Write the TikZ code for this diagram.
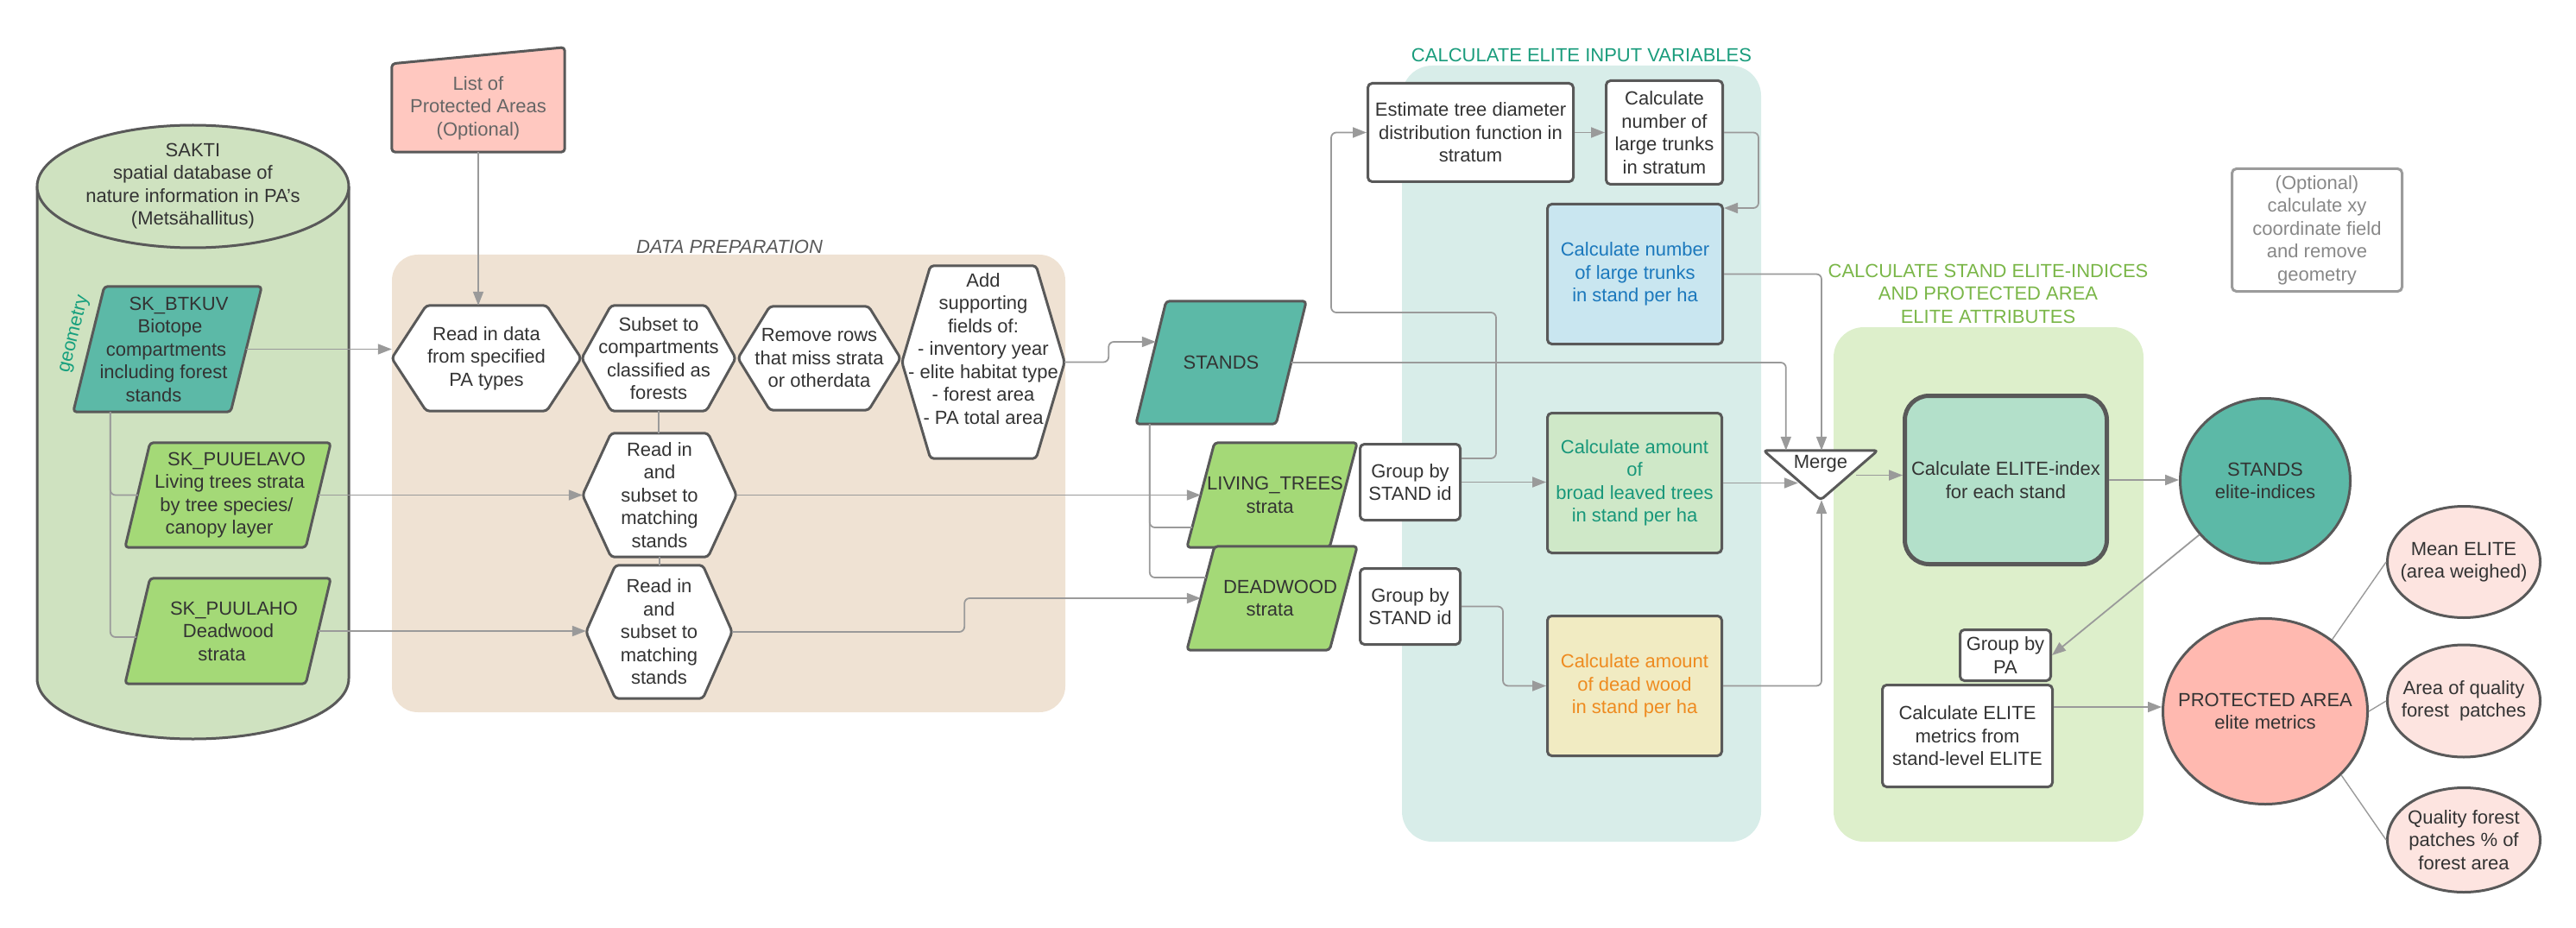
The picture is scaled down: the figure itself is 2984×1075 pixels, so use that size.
\documentclass[tikz,border=0pt]{standalone}
\usepackage{fontspec}
\setmainfont{Liberation Sans}
\usetikzlibrary{shapes.geometric,arrows.meta,calc}
\pgfdeclarelayer{groups}
\pgfdeclarelayer{shapes}
\pgfsetlayers{groups,shapes,main}
\definecolor{txtc}{HTML}{333333}
\definecolor{bord}{HTML}{595959}
\definecolor{conc}{HTML}{9A9A9A}
\definecolor{cylf}{HTML}{CFE2C0}
\definecolor{lpaf}{HTML}{FFC8C0}
\definecolor{lpat}{HTML}{666666}
\definecolor{tealf}{HTML}{5CB9A7}
\definecolor{limef}{HTML}{A4D977}
\definecolor{dpf}{HTML}{EFE2D3}
\definecolor{tealbg}{HTML}{D8EDE9}
\definecolor{greenbg}{HTML}{DDEFCB}
\definecolor{bluef}{HTML}{C9E6F0}
\definecolor{bluet}{HTML}{1B78BC}
\definecolor{greenf}{HTML}{CFE8C8}
\definecolor{greent}{HTML}{18977A}
\definecolor{yelf}{HTML}{F1EBC2}
\definecolor{yelt}{HTML}{EE8B20}
\definecolor{elitef}{HTML}{B3E0CA}
\definecolor{paf}{HTML}{FFB9B0}
\definecolor{smallf}{HTML}{FDE4E0}
\definecolor{optb}{HTML}{9B9B9B}
\definecolor{optt}{HTML}{888888}
\definecolor{geoc}{HTML}{17A07E}
\definecolor{dplab}{HTML}{595959}
\definecolor{inlab}{HTML}{1A9C7C}
\definecolor{stlab}{HTML}{7AB648}
\newcommand\fs{\fontsize{22}{26.5}\selectfont}
\newcommand\slnt[2]{\hspace*{#1pt}#2\hspace*{-#1pt}}
\newcommand\paraout[3]{\begin{pgfonlayer}{shapes}\draw[shp,fill=#3] ($(#1.north west)+(#2,0)$) -- (#1.north east) -- ($(#1.south east)+(-#2,0)$) -- (#1.south west) -- cycle;\end{pgfonlayer}}
\newcommand\hexout[2]{\begin{pgfonlayer}{shapes}\draw[shp,fill=white] (#1.west) -- ($(#1.north west)+(#2,0)$) -- ($(#1.north east)+(-#2,0)$) -- (#1.east) -- ($(#1.south east)+(-#2,0)$) -- ($(#1.south west)+(#2,0)$) -- cycle;\end{pgfonlayer}}
\tikzset{
  txt/.style={font=\fs, text=txtc, align=center, inner sep=0pt},
  box/.style={txt, draw=bord, line width=3pt, rounded corners=5pt, fill=white},
  shp/.style={draw=bord, line width=3pt, rounded corners=4pt, line join=round},
  ell/.style={ellipse, draw=bord, line width=3pt, inner sep=0pt},
  conn/.style={draw=conc, line width=1.8pt, rounded corners=6pt},
  arr/.style={conn, -{Triangle[length=16pt,width=12pt]}},
  link/.style={draw=conc, line width=1.4pt},
  ttl/.style={inner sep=0pt, align=center},
}
\begin{document}
\begin{tikzpicture}[x=1pt,y=-1pt]
\useasboundingbox (0,0) rectangle (2984,1075);

% ---------- group backgrounds ----------
\begin{pgfonlayer}{groups}
\fill[dpf, rounded corners=30pt] (454,295) rectangle (1234,825);
\fill[tealbg, rounded corners=35pt] (1624,76) rectangle (2040,975);
\fill[greenbg, rounded corners=35pt] (2124,379) rectangle (2483,975);
% cylinder
\fill[cylf] (43,216) -- (43,786) arc[start angle=180, end angle=360, x radius=180.5pt, y radius=70pt] -- (404,216) -- cycle;
\draw[bord, line width=3pt] (43,216) -- (43,786) arc[start angle=180, end angle=360, x radius=180.5pt, y radius=70pt] -- (404,216);
\draw[bord, line width=3pt, fill=cylf] (223.5,216) ellipse [x radius=180.5pt, y radius=71pt];
\end{pgfonlayer}

% ---------- group labels ----------
\node[ttl, font=\fs\itshape, text=dplab] (dplabel) at (845,286) {DATA PREPARATION};
\node[ttl, font=\fs, text=inlab] (inlabel) at (1832,64) {CALCULATE ELITE INPUT VARIABLES};
\node[ttl, font=\fs, text=stlab] (stlabel) at (2303,340) {CALCULATE STAND ELITE-INDICES\\AND PROTECTED AREA\\ELITE ATTRIBUTES};

% ---------- left sources ----------
\node[txt] (sakti) at (223.5,215.5) {SAKTI\\spatial database of\\nature information in PA's\\(Metsähallitus)};
\node[txt, text=geoc, rotate=76] (geom) at (86,387) {geometry};

\node[txt, text=lpat, minimum width=200pt, minimum height=102pt] (lpa) at (554,125) {List of\\Protected Areas\\(Optional)};
\begin{pgfonlayer}{shapes}
\draw[shp, fill=lpaf] (lpa.north west) -- ($(lpa.north east)+(0,-19)$) -- (lpa.south east) -- (lpa.south west) -- cycle;
\end{pgfonlayer}

\node[txt, minimum width=218pt, minimum height=145pt] (btkuv) at (194,404.5) {\slnt{13}{SK\_BTKUV}\\\slnt{6}{Biotope}\\\slnt{-3}{compartments}\\\slnt{-9}{including forest}\\\slnt{-16}{stands}};
\paraout{btkuv}{36}{tealf}
\node[txt, minimum width=238pt, minimum height=121pt] (puuelavo) at (264,573.5) {\slnt{10}{SK\_PUUELAVO}\\\slnt{4}{Living trees strata}\\\slnt{-3}{by tree species/}\\\slnt{-10}{canopy layer}};
\paraout{puuelavo}{29}{limef}
\node[txt, minimum width=238pt, minimum height=122pt] (puulaho) at (264,731) {\slnt{7}{SK\_PUULAHO}\\\slnt{1}{Deadwood}\\\slnt{-7}{strata}};
\paraout{puulaho}{29}{limef}

% ---------- data preparation ----------
\node[txt, minimum width=219pt, minimum height=122pt] (readin) at (563.5,415) {Read in data\\from specified\\PA types};
\hexout{readin}{40}
\node[txt, minimum width=178pt, minimum height=122pt] (subset) at (763,415) {Subset to\\compartments\\classified as\\forests};
\hexout{subset}{34}
\node[txt, minimum width=188pt, minimum height=120pt] (remove) at (949,415) {Remove rows\\that miss strata\\or otherdata};
\hexout{remove}{37}
\node[txt, minimum width=188pt, minimum height=223pt] (add) at (1139,419.5) {};
\hexout{add}{33}
\node[txt] (addtxt) at (1139,404) {Add\\supporting\\fields of:\\- inventory year\\- elite habitat type\\- forest area\\- PA total area};
\node[txt, minimum width=178pt, minimum height=143pt] (hex1) at (764,573.5) {Read in\\and\\subset to\\matching\\stands};
\hexout{hex1}{33}
\node[txt, minimum width=169pt, minimum height=154pt] (hex2) at (763.5,732) {Read in\\and\\subset to\\matching\\stands};
\hexout{hex2}{34}

% ---------- intermediate data ----------
\node[txt, minimum width=197pt, minimum height=142pt] (stands) at (1414.5,420) {STANDS};
\paraout{stands}{35}{tealf}
\node[txt, minimum width=197pt, minimum height=121pt] (living) at (1473.5,573.5) {\slnt{3.5}{LIVING\_TREES}\\\slnt{-2.5}{strata}};
\paraout{living}{32}{limef}
\node[txt, minimum width=197pt, minimum height=120pt] (deadwood) at (1473.5,693) {\slnt{9.5}{DEADWOOD}\\\slnt{-2.5}{strata}};
\paraout{deadwood}{32}{limef}
\node[box, minimum width=116pt, minimum height=88pt] (group1) at (1633.5,558.5) {Group by\\STAND id};
\node[box, minimum width=116pt, minimum height=88pt] (group2) at (1633.5,702.5) {Group by\\STAND id};

% ---------- elite input variables ----------
\node[box, minimum width=238pt, minimum height=114pt] (estimate) at (1703.5,153.5) {Estimate tree diameter\\distribution function in\\stratum};
\node[box, minimum width=135pt, minimum height=120pt] (stratum) at (1928,153.5) {Calculate\\number of\\large trunks\\in stratum};
\node[box, fill=bluef, text=bluet, minimum width=203pt, minimum height=162pt] (blue) at (1894,317.5) {Calculate number\\of large trunks\\in stand per ha};
\node[box, fill=greenf, text=greent, minimum width=202pt, minimum height=162pt] (green) at (1893.5,559.5) {Calculate amount\\of\\broad leaved trees\\in stand per ha};
\node[box, fill=yelf, text=yelt, minimum width=202pt, minimum height=162pt] (yellow) at (1893.5,794.5) {Calculate amount\\of dead wood\\in stand per ha};

% ---------- merge and elite ----------
\node[txt, minimum width=132pt, minimum height=57pt] (merge) at (2109,550.5) {};
\begin{pgfonlayer}{shapes}
\draw[shp, fill=white] (merge.north west) -- (merge.north east) -- (merge.south) -- cycle;
\end{pgfonlayer}
\node[txt] (mergetxt) at (2109,537) {Merge};
\node[box, fill=elitef, line width=5pt, rounded corners=28pt, minimum width=234pt, minimum height=195pt] (eliteidx) at (2323.5,556) {Calculate ELITE-index\\for each stand};
\node[ell, fill=tealf, minimum width=197pt, minimum height=191pt, label={[txt]center:{STANDS\\elite-indices}}] (standsE) at (2624,557) {};
\node[box, minimum width=105pt, minimum height=59pt] (groupPA) at (2323,759) {Group by\\PA};
\node[box, minimum width=197pt, minimum height=118pt] (metrics) at (2279,852.5) {Calculate ELITE\\metrics from\\stand-level ELITE};
\node[ell, fill=paf, minimum width=237pt, minimum height=215pt, label={[txt]center:{PROTECTED AREA\\elite metrics}}] (paE) at (2624,824) {};
\node[ell, fill=smallf, minimum width=177pt, minimum height=129pt, label={[txt]center:{Mean ELITE\\(area weighed)}}] (meanE) at (2854,651) {};
\node[ell, fill=smallf, minimum width=177pt, minimum height=130pt, label={[txt]center:{Area of quality\\forest\ \ patches}}] (areaE) at (2854,812) {};
\node[ell, fill=smallf, minimum width=177pt, minimum height=121pt, label={[txt]center:{Quality forest\\patches \% of\\forest area}}] (qualE) at (2854,973) {};
\node[box, draw=optb, text=optt, minimum width=197pt, minimum height=142pt] (optional) at (2684,266.5) {(Optional)\\calculate xy\\coordinate field\\and remove\\geometry};

% ---------- connectors ----------
\draw[arr] (lpa.south) -- (lpa.south |- readin.north);
\draw[arr] ($(btkuv.east)+(-18,0)$) -- (btkuv.east -| readin.west);
\draw[conn] ($(btkuv.south west)+(43,0)$) |- ($(puuelavo.west)+(15,0)$);
\draw[conn] ($(btkuv.south west)+(43,0)$) |- ($(puulaho.west)+(13,7)$);
\draw[arr] ($(puuelavo.east)+(-14.5,0)$) -- (hex1.west);
\draw[arr] ($(puulaho.east)+(-14.5,0)$) -- (puulaho.east -| hex2.west);
\draw[conn] (subset.south) -- (subset.south |- hex1.north);
\draw[conn] (hex1.south) -- (hex1.south |- hex2.north);
\draw[arr] (hex1.east) -- ($(living.west)+(16,0)$);
\draw[arr] (hex2.east) -- ++(269,0) |- ($(deadwood.west)+(16,0)$);
\draw[arr] (add.east) -- ++(51,0) |- ($(stands.west)+(23,-24)$);
\draw[conn] ($(stands.south west)+(16,0)$) |- ($(living.west)+(6,37.5)$);
\draw[conn] ($(stands.south west)+(16,0)$) |- ($(deadwood.west)+(22,-24)$);
\draw[arr] ($(stands.east)+(-17.5,0)$) -| ($(merge.north west)+(26,0)$);
\draw[arr] (group1.east) -- (group1.east -| green.west);
\draw[arr] ($(group1.north east)+(0,18)$) -| ($(estimate.west)+(150,208.5)$) -| ($(estimate.west)+(-41,0)$) -- (estimate.west);
\draw[arr] (estimate.east) -- (stratum.west);
\draw[arr] (stratum.east) -- ++(40,0) |- ($(blue.north east)+(0,6)$);
\draw[arr] (blue.east) -| ($(merge.north)+(1,0)$);
\coordinate (mergeL) at ($(merge.west)+(40,9)$);
\draw[arr] (green.east) -- (mergeL);
\draw[arr] (yellow.east) -| ($(merge.south)+(1,0)$);
\draw[arr] (group2.east) -- ++(48,0) |- (yellow.west);
\coordinate (mergeR) at ($(merge.east)+(-25,0)$);
\draw[arr] (mergeR) -- (mergeR -| eliteidx.west);
\draw[arr] (eliteidx.east) -- (eliteidx.east -| standsE.west);
\draw[arr] (standsE) -- (groupPA.east);
\coordinate (metricsOut) at ($(metrics.north east)+(0,27)$);
\draw[arr] (metricsOut) -- (metricsOut -| paE.west);
\draw[link] (paE.47) -- (meanE.west);
\draw[link] (paE.east) -- (areaE.west);
\draw[link] (paE.-40) -- (qualE.west);
\end{tikzpicture}
\end{document}
